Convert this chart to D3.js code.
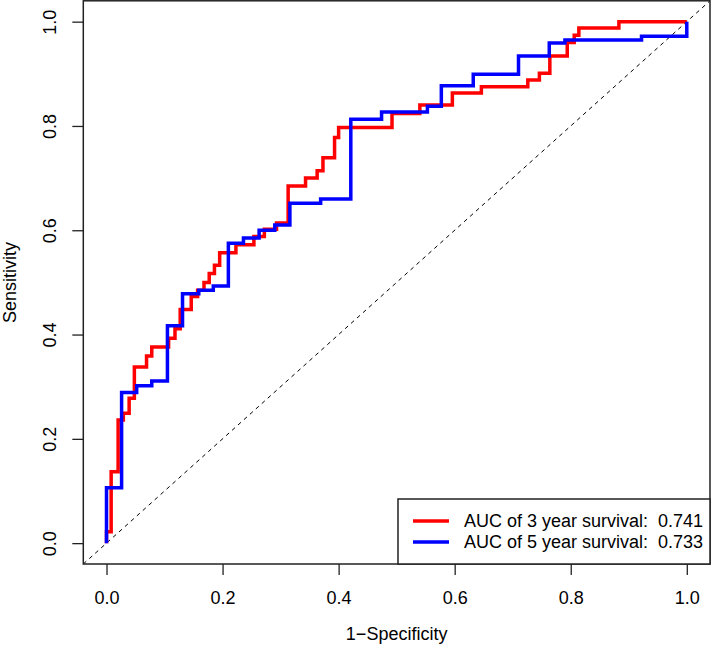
<!DOCTYPE html>
<html>
<head>
<meta charset="utf-8">
<script src="https://cdn.jsdelivr.net/npm/d3@7"></script>
<style>
  body { margin: 0; background: #fff; }
  svg text { font-family: "Liberation Sans", Arial, Helvetica, sans-serif; fill: #000; }
</style>
</head>
<body>
<div id="container"></div>
<script>
const WIDTH = 714;
const HEIGHT = 652;
const FONT = 18;

// ROC step vertices (1-specificity, sensitivity)
const fpr3 = [0, 0, 0.008, 0.020, 0.029, 0.039, 0.048, 0.069, 0.078, 0.107, 0.118, 0.127, 0.146, 0.157, 0.168, 0.177, 0.186, 0.195, 0.223, 0.254, 0.272, 0.293, 0.313, 0.343, 0.363, 0.373, 0.393, 0.400, 0.492, 0.540, 0.596, 0.646, 0.726, 0.746, 0.764, 0.794, 0.806, 0.814, 0.883, 1.0];
const tpr3 = [0, 0.022, 0.137, 0.236, 0.249, 0.278, 0.338, 0.359, 0.376, 0.393, 0.411, 0.448, 0.473, 0.485, 0.500, 0.517, 0.533, 0.557, 0.572, 0.588, 0.602, 0.614, 0.685, 0.700, 0.714, 0.739, 0.778, 0.797, 0.824, 0.840, 0.863, 0.875, 0.888, 0.901, 0.934, 0.960, 0.974, 0.988, 1.0, 1.0];

const fpr5 = [0, 0, 0.026, 0.052, 0.078, 0.105, 0.131, 0.159, 0.184, 0.210, 0.236, 0.263, 0.290, 0.316, 0.369, 0.421, 0.474, 0.553, 0.577, 0.632, 0.710, 0.763, 0.790, 0.922, 1.0];
const tpr5 = [0, 0.106, 0.289, 0.302, 0.311, 0.417, 0.478, 0.485, 0.493, 0.575, 0.585, 0.600, 0.610, 0.652, 0.660, 0.813, 0.827, 0.838, 0.877, 0.899, 0.934, 0.959, 0.965, 0.972, 1.0];

const legendLabels = ["AUC of 3 year survival:  0.741", "AUC of 5 year survival:  0.733"];
const seriesColors = ["#ff0000", "#0000ff"];
const tickValues = [0, 0.2, 0.4, 0.6, 0.8, 1.0];

const box = { left: 83.3, right: 710, top: 0.8, bottom: 564 };

const x = d3.scaleLinear().domain([-0.04, 1.04]).range([box.left, box.right]);
const y = d3.scaleLinear().domain([-0.04, 1.04]).range([box.bottom, box.top]);

const svg = d3.select("#container")
  .append("svg")
  .attr("width", WIDTH)
  .attr("height", HEIGHT);

svg.append("defs").append("clipPath")
  .attr("id", "plot-clip")
  .append("rect")
  .attr("x", box.left)
  .attr("y", box.top)
  .attr("width", box.right - box.left)
  .attr("height", box.bottom - box.top);

// diagonal reference line
svg.append("line")
  .attr("clip-path", "url(#plot-clip)")
  .attr("x1", x(-0.04))
  .attr("y1", y(-0.04))
  .attr("x2", x(1.04))
  .attr("y2", y(1.04))
  .attr("stroke", "#000")
  .attr("stroke-width", 1)
  .attr("stroke-dasharray", "4,4");

const line = d3.line()
  .x((d) => x(d[0]))
  .y((d) => y(d[1]))
  .curve(d3.curveStepAfter);

const series = [
  d3.zip(fpr3, tpr3),
  d3.zip(fpr5, tpr5),
];

series.forEach((pts, i) => {
  svg.append("path")
    .datum(pts)
    .attr("d", line)
    .attr("fill", "none")
    .attr("stroke", seriesColors[i])
    .attr("stroke-width", 3.5)
    .attr("stroke-linejoin", "miter")
    .attr("stroke-linecap", "butt");
});

// axes
const xAxis = d3.axisBottom(x).tickValues(tickValues).tickFormat(d3.format(".1f"))
  .tickSizeInner(11).tickSizeOuter(0).tickPadding(16);
const yAxis = d3.axisLeft(y).tickValues(tickValues).tickFormat(d3.format(".1f"))
  .tickSizeInner(11).tickSizeOuter(0);

const gx = svg.append("g")
  .attr("transform", `translate(0, ${box.bottom})`)
  .call(xAxis);
gx.select(".domain").remove();
gx.selectAll("line").attr("stroke", "#222").attr("stroke-width", 1.3);
gx.selectAll("text")
  .attr("font-size", FONT)
  .attr("font-family", "Liberation Sans, Arial, sans-serif")
  .attr("fill", "#000");

const gy = svg.append("g")
  .attr("transform", `translate(${box.left}, 0)`)
  .call(yAxis);
gy.select(".domain").remove();
gy.selectAll("line").attr("stroke", "#222").attr("stroke-width", 1.3);
gy.selectAll("text")
  .attr("font-size", FONT)
  .attr("font-family", "Liberation Sans, Arial, sans-serif")
  .attr("fill", "#000")
  .attr("x", null)
  .attr("dy", null)
  .attr("text-anchor", "middle")
  .attr("transform", "translate(-27, 0) rotate(-90)")
  .attr("y", 0);

// plot frame
svg.append("rect")
  .attr("x", box.left)
  .attr("y", box.top)
  .attr("width", box.right - box.left)
  .attr("height", box.bottom - box.top)
  .attr("fill", "none")
  .attr("stroke", "#222")
  .attr("stroke-width", 1.5);

// axis titles
svg.append("text")
  .attr("x", (box.left + box.right) / 2)
  .attr("y", 640)
  .attr("text-anchor", "middle")
  .attr("font-size", FONT)
  .text("1\u2212Specificity");

svg.append("text")
  .attr("transform", `translate(16, ${(box.top + box.bottom) / 2}) rotate(-90)`)
  .attr("text-anchor", "middle")
  .attr("font-size", FONT)
  .text("Sensitivity");

// legend
const legend = svg.append("g");
legend.append("rect")
  .attr("x", 398)
  .attr("y", 499)
  .attr("width", box.right - 398)
  .attr("height", box.bottom - 499)
  .attr("fill", "#fff")
  .attr("stroke", "#222")
  .attr("stroke-width", 1.5);

legendLabels.forEach((label, i) => {
  const ly = 521 + i * 21;
  legend.append("line")
    .attr("x1", 413).attr("x2", 449)
    .attr("y1", ly).attr("y2", ly)
    .attr("stroke", seriesColors[i])
    .attr("stroke-width", 3.5);
  legend.append("text")
    .attr("x", 464)
    .attr("y", ly + 6)
    .attr("font-size", FONT)
    .style("white-space", "pre")
    .attr("xml:space", "preserve")
    .text(label);
});
</script>
</body>
</html>
